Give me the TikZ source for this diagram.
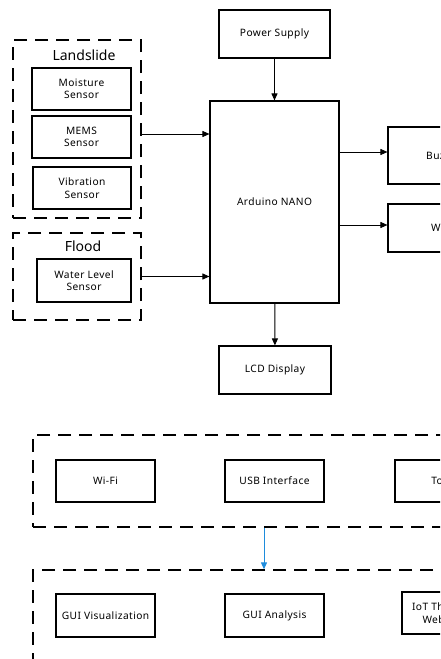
\documentclass[tikz,border=0pt]{standalone}
\usepackage{fontspec}
\setmainfont{Noto Sans}
\usetikzlibrary{arrows.meta,positioning}

\tikzset{
  blockbox/.style={draw=black, line width=1.1pt, align=center, inner sep=1pt,
    font=\fontsize{10.2}{12.5}\selectfont\addfontfeatures{LetterSpace=4}},
  groupbox/.style={draw=black, line width=1.3pt, dash pattern=on 13pt off 8pt},
  grouplabel/.style={font=\fontsize{14}{16}\selectfont},
  arr/.style={-{Triangle[length=7pt,width=6pt]}, line width=0.9pt},
  bluearr/.style={-{Triangle[length=7pt,width=6pt]}, line width=1pt, draw={rgb,255:red,30;green,140;blue,220}}
}

\begin{document}
\begin{tikzpicture}[x=1pt, y=-1pt]
    \useasboundingbox (0,0) rectangle (440,659);
    \clip (0,0) rectangle (440,659);
    % --- sensor groups ---
    \node[groupbox, minimum width=128pt, minimum height=178pt] (landslide) at (77,129) {};
    \node[grouplabel] (landslidelbl) at (84,55) {Landslide};
    \node[blockbox, minimum width=99pt, minimum height=42pt] (moisture) at (81.5,89) {Moisture\\Sensor};
    \node[blockbox, minimum width=99pt, minimum height=42pt] (mems) at (81.5,137) {MEMS\\Sensor};
    \node[blockbox, minimum width=98pt, minimum height=42pt] (vibration) at (82,188) {Vibration\\Sensor};
    \node[groupbox, minimum width=128pt, minimum height=87pt] (flood) at (77,276.5) {};
    \node[grouplabel] (floodlbl) at (83,246) {Flood};
    \node[blockbox, minimum width=94pt, minimum height=43pt] (water) at (84,280.5) {Water Level\\Sensor};
    % --- controller and outputs ---
    \node[blockbox, minimum width=111pt, minimum height=48pt] (power) at (274.5,34) {Power Supply};
    \node[blockbox, minimum width=129pt, minimum height=202pt] (arduino) at (274.5,202) {Arduino NANO};
    \node[blockbox, minimum width=112pt, minimum height=48pt] (lcd) at (275,370) {LCD Display};
    \node[blockbox, minimum width=111pt, minimum height=57pt] (buzzer) at (443.5,155.5) {Buzzer};
    \node[blockbox, minimum width=111pt, minimum height=48pt] (wifimod) at (443.5,228) {Wi-Fi};
    % --- arrows ---
    \draw[arr] (power) -- (arduino);
    \draw[arr] ([yshift=-5pt]landslide.east) -- ([yshift=-5pt]landslide.east -| arduino.west);
    \draw[arr] (flood.east) -- (flood.east -| arduino.west);
    \draw[arr] ([yshift=3.5pt]buzzer.west -| arduino.east) -- ([yshift=3.5pt]buzzer.west);
    \draw[arr] ([yshift=3pt]wifimod.west -| arduino.east) -- ([yshift=3pt]wifimod.west);
    \draw[arr] (arduino) -- (lcd);
    % --- communication layer ---
    \node[groupbox, minimum width=540pt, minimum height=92pt] (comm) at (303,481) {};
    \node[blockbox, minimum width=99pt, minimum height=42pt] (wifi) at (105.5,481) {Wi-Fi};
    \node[blockbox, minimum width=99pt, minimum height=42pt] (usb) at (274.5,481) {USB Interface};
    \node[blockbox, minimum width=99pt, minimum height=42pt] (tools) at (444.5,481) {Tools};
    % --- software layer ---
    \node[groupbox, minimum width=540pt, minimum height=160pt] (gui) at (303,650) {};
    \node[blockbox, minimum width=99pt, minimum height=43pt] (guivis) at (105.5,615.5) {GUI Visualization};
    \node[blockbox, minimum width=99pt, minimum height=43pt] (guiana) at (274.5,615.5) {GUI Analysis};
    \node[blockbox, minimum width=99pt, minimum height=42pt] (iot) at (451.5,613) {IoT ThingSpeak\\Web Server};
    \coordinate (link) at (264,0);
    \draw[bluearr] (comm.south -| link) -- (gui.north -| link);
\end{tikzpicture}
\end{document}
